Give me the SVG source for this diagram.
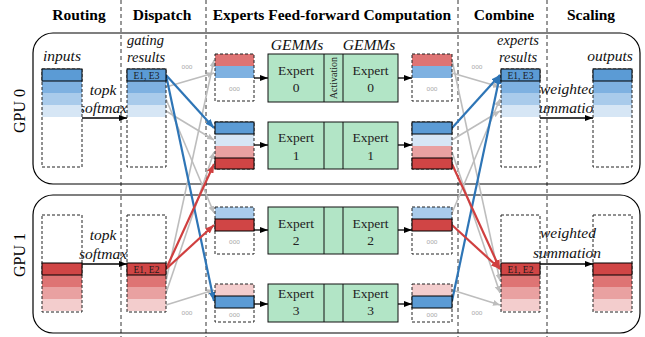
<svg xmlns="http://www.w3.org/2000/svg" width="645" height="337" viewBox="0 0 645 337">
<style>
.hdr{font-family:"Liberation Serif",serif;font-weight:bold;font-size:15.5px;text-anchor:middle;fill:#000}
.it{font-family:"Liberation Serif",serif;font-style:italic;font-size:15.5px;fill:#111}
.it2{font-family:"Liberation Serif",serif;font-style:italic;font-size:14.5px;fill:#111}
.gpu{font-family:"Liberation Serif",serif;font-size:16px;text-anchor:middle;fill:#000}
.sep{stroke:#333;stroke-width:1;stroke-dasharray:4 3}
.gpubox{fill:none;stroke:#000;stroke-width:1.2}
.col{fill:none;stroke:#222;stroke-width:1;stroke-dasharray:3 2}
.hl{stroke:#000;stroke-width:1}
.b1{fill:#5B9BD5}.b2{fill:#7EB1E1}.b3{fill:#A9CBEB}.b4{fill:#D6E6F5}
.r1{fill:#D04545}.r2{fill:#DE7474}.r3{fill:#E9A1A1}.r4{fill:#F3CDCD}
.tag{font-family:"Liberation Serif",serif;font-size:9.5px;text-anchor:middle;fill:#1a1a1a}
.dots{font-family:"Liberation Sans",sans-serif;font-size:6.5px;fill:#aaa;text-anchor:middle}
.exp{fill:#B2E5C6;stroke:#111;stroke-width:1}
.et{font-family:"Liberation Serif",serif;font-size:13.5px;text-anchor:middle;fill:#222}
.act{font-family:"Liberation Serif",serif;font-size:10px;text-anchor:middle;fill:#222}
.ak{stroke:#000;stroke-width:1.3;fill:none}
.lb{stroke:#2E75B6;stroke-width:2.2;fill:none}
.lr{stroke:#D03F3F;stroke-width:2.2;fill:none}
.lg{stroke:#BDBDBD;stroke-width:1.6;fill:none}
</style>
<defs>
  <marker id="mk" markerUnits="userSpaceOnUse" markerWidth="8" markerHeight="6" refX="8" refY="3" orient="auto"><path d="M0,0 L8,3 L0,6 z" fill="#000"/></marker>
  <marker id="mb" markerUnits="userSpaceOnUse" markerWidth="9" markerHeight="7" refX="9" refY="3.5" orient="auto"><path d="M0,0 L9,3.5 L0,7 z" fill="#2E75B6"/></marker>
  <marker id="mr" markerUnits="userSpaceOnUse" markerWidth="9" markerHeight="7" refX="9" refY="3.5" orient="auto"><path d="M0,0 L9,3.5 L0,7 z" fill="#D03F3F"/></marker>
  <marker id="mg" markerUnits="userSpaceOnUse" markerWidth="7" markerHeight="6" refX="7" refY="3" orient="auto"><path d="M0,0 L7,3 L0,6 z" fill="#BDBDBD"/></marker>
</defs>
<rect width="645" height="337" fill="#fff"/>

<!-- stage headers -->
<g id="headers">
  <text class="hdr" x="79" y="20">Routing</text>
  <text class="hdr" x="162" y="20">Dispatch</text>
  <text class="hdr" x="332" y="20">Experts Feed-forward Computation</text>
  <text class="hdr" x="504" y="20">Combine</text>
  <text class="hdr" x="591" y="20">Scaling</text>
</g>

<!-- stage separators -->
<g id="separators">
  <line class="sep" x1="121" y1="0" x2="121" y2="337"/>
  <line class="sep" x1="206" y1="0" x2="206" y2="337"/>
  <line class="sep" x1="458" y1="0" x2="458" y2="337"/>
  <line class="sep" x1="547" y1="0" x2="547" y2="337"/>
</g>

<!-- GPU frames -->
<g id="gpu0">
  <rect class="gpubox" x="33" y="33" width="607" height="151" rx="20"/>
  <text class="gpu" transform="translate(25,111) rotate(-90)">GPU 0</text>
</g>
<g id="gpu1">
  <rect class="gpubox" x="33" y="195" width="607" height="138" rx="20"/>
  <text class="gpu" transform="translate(25,255) rotate(-90)">GPU 1</text>
</g>

<!-- connectors -->
<g id="connectors">
  <!-- routing / scaling arrows -->
  <line class="ak" x1="82" y1="118" x2="127" y2="118" marker-end="url(#mk)"/>
  <line class="ak" x1="82" y1="264" x2="127" y2="264" marker-end="url(#mk)"/>
  <line class="ak" x1="540" y1="118" x2="593" y2="118" marker-end="url(#mk)"/>
  <line class="ak" x1="540" y1="264" x2="593" y2="264" marker-end="url(#mk)"/>
  <!-- expert in/out arrows -->
  <line class="ak" x1="254" y1="78" x2="268" y2="78" marker-end="url(#mk)"/>
  <line class="ak" x1="398" y1="78" x2="412" y2="78" marker-end="url(#mk)"/>
  <line class="ak" x1="254" y1="145" x2="268" y2="145" marker-end="url(#mk)"/>
  <line class="ak" x1="398" y1="145" x2="412" y2="145" marker-end="url(#mk)"/>
  <line class="ak" x1="254" y1="230" x2="268" y2="230" marker-end="url(#mk)"/>
  <line class="ak" x1="398" y1="230" x2="412" y2="230" marker-end="url(#mk)"/>
  <line class="ak" x1="254" y1="304" x2="268" y2="304" marker-end="url(#mk)"/>
  <line class="ak" x1="398" y1="304" x2="412" y2="304" marker-end="url(#mk)"/>

  <!-- dispatch: other tokens -->
  <path class="lg" d="M166,87 L214,73" marker-end="url(#mg)"/>
  <path class="lg" d="M166,99 L214,213" marker-end="url(#mg)"/>
  <path class="lg" d="M166,111 L214,140" marker-end="url(#mg)"/>
  <path class="lg" d="M166,281 L214,60" marker-end="url(#mg)"/>
  <path class="lg" d="M166,293 L214,152" marker-end="url(#mg)"/>
  <path class="lg" d="M166,305 L214,290" marker-end="url(#mg)"/>
  <!-- combine: other tokens -->
  <path class="lg" d="M452,73 L500,87" marker-end="url(#mg)"/>
  <path class="lg" d="M452,213 L500,99" marker-end="url(#mg)"/>
  <path class="lg" d="M452,140 L500,111" marker-end="url(#mg)"/>
  <path class="lg" d="M452,60 L500,281" marker-end="url(#mg)"/>
  <path class="lg" d="M452,152 L500,293" marker-end="url(#mg)"/>
  <path class="lg" d="M452,290 L500,305" marker-end="url(#mg)"/>

  <!-- dispatch: highlighted tokens -->
  <path class="lb" d="M166,75 L214,128" marker-end="url(#mb)"/>
  <path class="lb" d="M166,75 L214,301" marker-end="url(#mb)"/>
  <path class="lr" d="M166,269 L214,164" marker-end="url(#mr)"/>
  <path class="lr" d="M166,269 L214,225" marker-end="url(#mr)"/>
  <!-- combine: highlighted tokens -->
  <path class="lb" d="M452,128 L500,75" marker-end="url(#mb)"/>
  <path class="lb" d="M452,301 L500,75" marker-end="url(#mb)"/>
  <path class="lr" d="M452,164 L500,269" marker-end="url(#mr)"/>
  <path class="lr" d="M452,225 L500,269" marker-end="url(#mr)"/>
</g>

<!-- labels -->
<g id="labels">
  <text class="it" x="62" y="61" text-anchor="middle">inputs</text>
  <text class="it2" x="127" y="45">gating</text>
  <text class="it2" x="127" y="62">results</text>
  <text class="it" x="103" y="95" text-anchor="middle">topk</text>
  <text class="it" x="103" y="113" text-anchor="middle">softmax</text>
  <text class="it" x="103" y="240" text-anchor="middle">topk</text>
  <text class="it" x="103" y="259" text-anchor="middle">softmax</text>
  <text class="it" x="297" y="50" text-anchor="middle">GEMMs</text>
  <text class="it" x="369" y="50" text-anchor="middle">GEMMs</text>
  <text class="it2" x="518" y="45" text-anchor="middle">experts</text>
  <text class="it2" x="518" y="62" text-anchor="middle">results</text>
  <text class="it" x="610" y="61" text-anchor="middle">outputs</text>
  <text class="it" x="568" y="94" text-anchor="middle">weighted</text>
  <text class="it" x="567" y="113" text-anchor="middle">summation</text>
  <text class="it" x="568" y="238" text-anchor="middle">weighted</text>
  <text class="it" x="567" y="258" text-anchor="middle">summation</text>
  <text class="dots" x="187" y="69">ooo</text>
  <text class="dots" x="477" y="69">ooo</text>
  <text class="dots" x="187" y="315">ooo</text>
  <text class="dots" x="477" y="315">ooo</text>
</g>

<!-- GPU 0 token columns -->
<g id="inputs0">
  <rect class="b2" x="42" y="81" width="40" height="12"/>
  <rect class="b3" x="42" y="93" width="40" height="12"/>
  <rect class="b4" x="42" y="105" width="40" height="12"/>
  <rect class="col" x="42" y="69" width="40" height="98"/>
  <rect class="b1 hl" x="42" y="69" width="40" height="12"/>
</g>
<g id="gating0">
  <rect class="b2" x="127" y="81" width="39" height="12"/>
  <rect class="b3" x="127" y="93" width="39" height="12"/>
  <rect class="b4" x="127" y="105" width="39" height="12"/>
  <rect class="col" x="127" y="69" width="39" height="98"/>
  <rect class="b1 hl" x="127" y="69" width="39" height="12"/>
  <text class="tag" x="146.5" y="78.5">E1, E3</text>
</g>
<g id="results0">
  <rect class="b2" x="501" y="81" width="39" height="12"/>
  <rect class="b3" x="501" y="93" width="39" height="12"/>
  <rect class="b4" x="501" y="105" width="39" height="12"/>
  <rect class="col" x="501" y="69" width="39" height="98"/>
  <rect class="b1 hl" x="501" y="69" width="39" height="12"/>
  <text class="tag" x="520.5" y="78.5">E1, E3</text>
</g>
<g id="outputs0">
  <rect class="b2" x="593" y="81" width="39" height="12"/>
  <rect class="b3" x="593" y="93" width="39" height="12"/>
  <rect class="b4" x="593" y="105" width="39" height="12"/>
  <rect class="col" x="593" y="69" width="39" height="98"/>
  <rect class="b1 hl" x="593" y="69" width="39" height="12"/>
</g>

<!-- GPU 1 token columns -->
<g id="inputs1">
  <rect class="r2" x="42" y="275" width="40" height="12"/>
  <rect class="r3" x="42" y="287" width="40" height="12"/>
  <rect class="r4" x="42" y="299" width="40" height="12"/>
  <rect class="col" x="42" y="215" width="40" height="97"/>
  <rect class="r1 hl" x="42" y="263" width="40" height="12"/>
</g>
<g id="gating1">
  <rect class="r2" x="127" y="275" width="39" height="12"/>
  <rect class="r3" x="127" y="287" width="39" height="12"/>
  <rect class="r4" x="127" y="299" width="39" height="12"/>
  <rect class="col" x="127" y="215" width="39" height="97"/>
  <rect class="r1 hl" x="127" y="263" width="39" height="12"/>
  <text class="tag" x="146.5" y="272.5">E1, E2</text>
</g>
<g id="results1">
  <rect class="r2" x="501" y="275" width="39" height="12"/>
  <rect class="r3" x="501" y="287" width="39" height="12"/>
  <rect class="r4" x="501" y="299" width="39" height="12"/>
  <rect class="col" x="501" y="215" width="39" height="97"/>
  <rect class="r1 hl" x="501" y="263" width="39" height="12"/>
  <text class="tag" x="520.5" y="272.5">E1, E2</text>
</g>
<g id="outputs1">
  <rect class="r2" x="593" y="275" width="39" height="12"/>
  <rect class="r3" x="593" y="287" width="39" height="12"/>
  <rect class="r4" x="593" y="299" width="39" height="12"/>
  <rect class="col" x="593" y="215" width="39" height="97"/>
  <rect class="r1 hl" x="593" y="263" width="39" height="12"/>
</g>

<!-- expert input buffers -->
<g id="in-e0">
  <rect class="r2" x="215" y="54" width="39" height="12"/>
  <rect class="b2" x="215" y="66" width="39" height="12"/>
  <rect class="col" x="215" y="54" width="39" height="47"/>
  <text class="dots" x="234.5" y="91">ooo</text>
</g>
<g id="in-e1">
  <rect class="b4" x="215" y="134" width="39" height="12"/>
  <rect class="r3" x="215" y="146" width="39" height="12"/>
  <rect class="col" x="215" y="122" width="39" height="47"/>
  <rect class="b1 hl" x="215" y="122" width="39" height="12"/>
  <rect class="r1 hl" x="215" y="158" width="39" height="11"/>
</g>
<g id="in-e2">
  <rect class="b3" x="215" y="207" width="39" height="12"/>
  <rect class="col" x="215" y="207" width="39" height="47"/>
  <rect class="r1 hl" x="215" y="219" width="39" height="12"/>
  <text class="dots" x="234.5" y="244">ooo</text>
</g>
<g id="in-e3">
  <rect class="r4" x="215" y="284" width="39" height="12"/>
  <rect class="col" x="215" y="284" width="39" height="38"/>
  <rect class="b1 hl" x="215" y="296" width="39" height="12"/>
  <text class="dots" x="234.5" y="317">ooo</text>
</g>

<!-- experts -->
<g id="expert0">
  <rect class="exp" x="268" y="54" width="130" height="48"/>
  <line x1="324" y1="54" x2="324" y2="102" stroke="#111"/>
  <line x1="343" y1="54" x2="343" y2="102" stroke="#111"/>
  <text class="et" x="296" y="75">Expert</text><text class="et" x="296" y="92">0</text>
  <text class="act" transform="translate(337,78) rotate(-90)">Activation</text>
  <text class="et" x="370.5" y="75">Expert</text><text class="et" x="370.5" y="92">0</text>
</g>
<g id="expert1">
  <rect class="exp" x="268" y="122" width="130" height="47"/>
  <line x1="324" y1="122" x2="324" y2="169" stroke="#111"/>
  <line x1="343" y1="122" x2="343" y2="169" stroke="#111"/>
  <text class="et" x="296" y="142">Expert</text><text class="et" x="296" y="160">1</text>
  <text class="et" x="370.5" y="142">Expert</text><text class="et" x="370.5" y="160">1</text>
</g>
<g id="expert2">
  <rect class="exp" x="268" y="207" width="130" height="47"/>
  <line x1="324" y1="207" x2="324" y2="254" stroke="#111"/>
  <line x1="343" y1="207" x2="343" y2="254" stroke="#111"/>
  <text class="et" x="296" y="228">Expert</text><text class="et" x="296" y="245">2</text>
  <text class="et" x="370.5" y="228">Expert</text><text class="et" x="370.5" y="245">2</text>
</g>
<g id="expert3">
  <rect class="exp" x="268" y="284" width="130" height="38"/>
  <line x1="324" y1="284" x2="324" y2="322" stroke="#111"/>
  <line x1="343" y1="284" x2="343" y2="322" stroke="#111"/>
  <text class="et" x="296" y="298">Expert</text><text class="et" x="296" y="315">3</text>
  <text class="et" x="370.5" y="298">Expert</text><text class="et" x="370.5" y="315">3</text>
</g>

<!-- expert output buffers -->
<g id="out-e0">
  <rect class="r2" x="412" y="54" width="40" height="12"/>
  <rect class="b2" x="412" y="66" width="40" height="12"/>
  <rect class="col" x="412" y="54" width="40" height="47"/>
  <text class="dots" x="432" y="91">ooo</text>
</g>
<g id="out-e1">
  <rect class="b4" x="412" y="134" width="40" height="12"/>
  <rect class="r3" x="412" y="146" width="40" height="12"/>
  <rect class="col" x="412" y="122" width="40" height="47"/>
  <rect class="b1 hl" x="412" y="122" width="40" height="12"/>
  <rect class="r1 hl" x="412" y="158" width="40" height="11"/>
</g>
<g id="out-e2">
  <rect class="b3" x="412" y="207" width="40" height="12"/>
  <rect class="col" x="412" y="207" width="40" height="47"/>
  <rect class="r1 hl" x="412" y="219" width="40" height="12"/>
  <text class="dots" x="432" y="244">ooo</text>
</g>
<g id="out-e3">
  <rect class="r4" x="412" y="284" width="40" height="12"/>
  <rect class="col" x="412" y="284" width="40" height="38"/>
  <rect class="b1 hl" x="412" y="296" width="40" height="12"/>
  <text class="dots" x="432" y="317">ooo</text>
</g>
</svg>
